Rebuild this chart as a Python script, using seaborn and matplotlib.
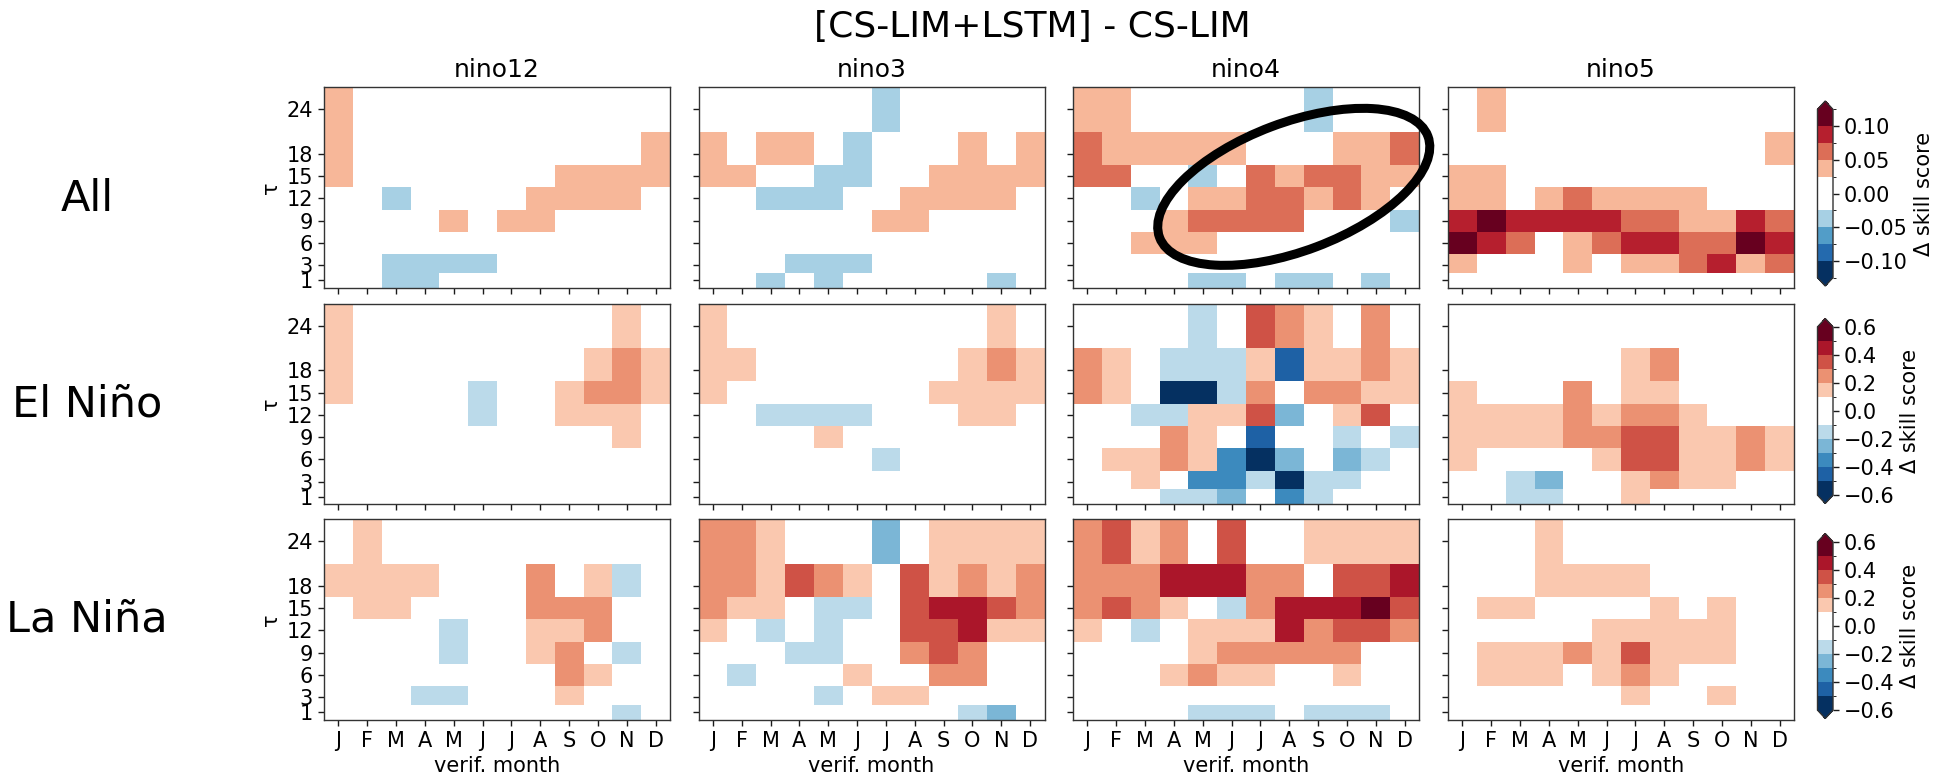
import numpy as np
import matplotlib
matplotlib.use("Agg")
import matplotlib.pyplot as plt
import seaborn as sns
from matplotlib.colors import ListedColormap, BoundaryNorm
from matplotlib.patches import Ellipse
from matplotlib.transforms import ScaledTranslation

# ---------------- data ----------------
TAU = [24, 18, 15, 12, 9, 6, 3, 1]          # lead times, rows top -> bottom
MONTHS = ["J", "F", "M", "A", "M", "J", "J", "A", "S", "O", "N", "D"]
REGIONS = ["nino12", "nino3", "nino4", "nino5"]
ROW_LABELS = ["All", "El Niño", "La Niña"]
SUPTITLE = "[CS-LIM+LSTM] - CS-LIM"

LEVELS_ALL = np.linspace(-0.125, 0.125, 11)
LEVELS_ENSO = np.linspace(-0.6, 0.6, 13)
CBAR_TICKS_ALL = [-0.10, -0.05, 0.0, 0.05, 0.10]
CBAR_TICKS_ENSO = [-0.6, -0.4, -0.2, 0.0, 0.2, 0.4, 0.6]

all_nino12 = [
    [.04, 0, 0, 0, 0, 0, 0, 0, 0, 0, 0, 0],
    [.04, 0, 0, 0, 0, 0, 0, 0, 0, 0, 0, .04],
    [.04, 0, 0, 0, 0, 0, 0, 0, .04, .04, .04, .04],
    [0, 0, -.04, 0, 0, 0, 0, .04, .04, .04, .04, 0],
    [0, 0, 0, 0, .04, 0, .04, .04, 0, 0, 0, 0],
    [0, 0, 0, 0, 0, 0, 0, 0, 0, 0, 0, 0],
    [0, 0, -.04, -.04, -.04, -.04, 0, 0, 0, 0, 0, 0],
    [0, 0, -.04, -.04, 0, 0, 0, 0, 0, 0, 0, 0],
]
all_nino3 = [
    [0, 0, 0, 0, 0, 0, -.04, 0, 0, 0, 0, 0],
    [.04, 0, .04, .04, 0, -.04, 0, 0, 0, .04, 0, .04],
    [.04, .04, 0, 0, -.04, -.04, 0, 0, .04, .04, .04, .04],
    [0, 0, -.04, -.04, -.04, 0, 0, .04, .04, .04, .04, 0],
    [0, 0, 0, 0, 0, 0, .04, .04, 0, 0, 0, 0],
    [0, 0, 0, 0, 0, 0, 0, 0, 0, 0, 0, 0],
    [0, 0, 0, -.04, -.04, -.04, 0, 0, 0, 0, 0, 0],
    [0, 0, -.04, 0, -.04, 0, 0, 0, 0, 0, -.04, 0],
]
all_nino4 = [
    [.04, .04, 0, 0, 0, 0, 0, 0, -.04, 0, 0, 0],
    [.06, .04, .04, .04, .04, .04, 0, 0, 0, .04, .04, .06],
    [.06, .06, 0, 0, -.04, 0, .06, .04, .06, .06, .04, .04],
    [0, 0, -.04, 0, .04, .04, .06, .06, .04, .06, .04, 0],
    [0, 0, 0, .04, .06, .06, .06, .06, 0, 0, 0, -.04],
    [0, 0, .04, .04, .04, 0, 0, 0, 0, 0, 0, 0],
    [0, 0, 0, 0, 0, 0, 0, 0, 0, 0, 0, 0],
    [0, 0, 0, 0, -.04, -.04, 0, -.04, -.04, 0, -.04, 0],
]
all_nino5 = [
    [0, .04, 0, 0, 0, 0, 0, 0, 0, 0, 0, 0],
    [0, 0, 0, 0, 0, 0, 0, 0, 0, 0, 0, .04],
    [.04, .04, 0, 0, 0, 0, 0, 0, 0, 0, 0, 0],
    [.04, .04, 0, .04, .06, .04, .04, .04, .04, 0, 0, 0],
    [.09, .11, .09, .09, .09, .09, .06, .06, .04, .04, .09, .06],
    [.11, .09, .06, 0, .04, .06, .09, .09, .06, .06, .11, .09],
    [.04, 0, 0, 0, .04, 0, .04, .04, .06, .09, .04, .06],
    [0, 0, 0, 0, 0, 0, 0, 0, 0, 0, 0, 0],
]

elnino_nino12 = [
    [.15, 0, 0, 0, 0, 0, 0, 0, 0, 0, .15, 0],
    [.15, 0, 0, 0, 0, 0, 0, 0, 0, .15, .25, .15],
    [.15, 0, 0, 0, 0, -.15, 0, 0, .15, .25, .25, .15],
    [0, 0, 0, 0, 0, -.15, 0, 0, .15, .15, .15, 0],
    [0, 0, 0, 0, 0, 0, 0, 0, 0, 0, .15, 0],
    [0, 0, 0, 0, 0, 0, 0, 0, 0, 0, 0, 0],
    [0, 0, 0, 0, 0, 0, 0, 0, 0, 0, 0, 0],
    [0, 0, 0, 0, 0, 0, 0, 0, 0, 0, 0, 0],
]
elnino_nino3 = [
    [.15, 0, 0, 0, 0, 0, 0, 0, 0, 0, .15, 0],
    [.15, .15, 0, 0, 0, 0, 0, 0, 0, .15, .25, .15],
    [.15, 0, 0, 0, 0, 0, 0, 0, .15, .15, .15, .15],
    [0, 0, -.15, -.15, -.15, -.15, 0, 0, 0, .15, .15, 0],
    [0, 0, 0, 0, .15, 0, 0, 0, 0, 0, 0, 0],
    [0, 0, 0, 0, 0, 0, -.15, 0, 0, 0, 0, 0],
    [0, 0, 0, 0, 0, 0, 0, 0, 0, 0, 0, 0],
    [0, 0, 0, 0, 0, 0, 0, 0, 0, 0, 0, 0],
]
elnino_nino4 = [
    [0, 0, 0, 0, -.15, 0, .35, .25, .15, 0, .25, 0],
    [.25, .15, 0, -.15, -.15, -.15, .15, -.45, .15, .15, .25, .15],
    [.25, .15, 0, -.55, -.55, -.15, .25, 0, .25, .25, .15, .15],
    [0, 0, -.15, -.15, .15, .15, .35, -.25, 0, .15, .35, 0],
    [0, 0, 0, .25, .15, 0, -.45, 0, 0, -.15, 0, -.15],
    [0, .15, .15, .25, .15, -.35, -.55, -.25, 0, -.25, -.15, 0],
    [0, 0, .15, 0, -.35, -.35, -.15, -.55, -.15, -.15, 0, 0],
    [0, 0, 0, -.15, -.15, -.25, 0, -.35, -.15, 0, 0, 0],
]
elnino_nino5 = [
    [0, 0, 0, 0, 0, 0, 0, 0, 0, 0, 0, 0],
    [0, 0, 0, 0, 0, 0, .15, .25, 0, 0, 0, 0],
    [.15, 0, 0, 0, .25, 0, .15, .15, 0, 0, 0, 0],
    [.15, .15, .15, .15, .25, .15, .25, .25, .15, 0, 0, 0],
    [.15, .15, .15, .15, .25, .25, .35, .35, .15, .15, .25, .15],
    [.15, 0, 0, 0, 0, .15, .35, .35, .15, .15, .25, .15],
    [0, 0, -.15, -.25, 0, 0, .15, .25, .15, .15, 0, 0],
    [0, 0, -.15, -.15, 0, 0, .15, 0, 0, 0, 0, 0],
]

lanina_nino12 = [
    [0, .15, 0, 0, 0, 0, 0, 0, 0, 0, 0, 0],
    [.15, .15, .15, .15, 0, 0, 0, .25, 0, .15, -.15, 0],
    [0, .15, .15, 0, 0, 0, 0, .25, .25, .25, 0, 0],
    [0, 0, 0, 0, -.15, 0, 0, .15, .15, .25, 0, 0],
    [0, 0, 0, 0, -.15, 0, 0, .15, .25, 0, -.15, 0],
    [0, 0, 0, 0, 0, 0, 0, 0, .25, .15, 0, 0],
    [0, 0, 0, -.15, -.15, 0, 0, 0, .15, 0, 0, 0],
    [0, 0, 0, 0, 0, 0, 0, 0, 0, 0, -.15, 0],
]
lanina_nino3 = [
    [.25, .25, .15, 0, 0, 0, -.25, 0, .15, .15, .15, .15],
    [.25, .25, .15, .35, .25, .15, 0, .35, .15, .25, .15, .25],
    [.25, .15, .15, 0, -.15, -.15, 0, .35, .45, .45, .35, .25],
    [.15, 0, -.15, 0, -.15, 0, 0, .35, .35, .45, .15, .15],
    [0, 0, 0, -.15, -.15, 0, 0, .25, .35, .25, 0, 0],
    [0, -.15, 0, 0, 0, .15, 0, 0, .25, .25, 0, 0],
    [0, 0, 0, 0, -.15, 0, .15, .15, 0, 0, 0, 0],
    [0, 0, 0, 0, 0, 0, 0, 0, 0, -.15, -.25, 0],
]
lanina_nino4 = [
    [.25, .35, .15, .25, 0, .35, 0, 0, .15, .15, .15, .15],
    [.25, .25, .25, .45, .45, .45, .25, .25, 0, .35, .35, .45],
    [.25, .35, .25, .15, 0, -.15, .25, .45, .45, .45, .55, .35],
    [.15, 0, -.15, 0, .15, .15, .15, .45, .25, .35, .35, .25],
    [0, 0, 0, 0, .15, .25, .25, .25, .25, .25, 0, 0],
    [0, 0, 0, .15, .25, .15, .15, 0, 0, .15, 0, 0],
    [0, 0, 0, 0, 0, 0, 0, 0, 0, 0, 0, 0],
    [0, 0, 0, 0, -.15, -.15, -.15, 0, -.15, -.15, -.15, 0],
]
lanina_nino5 = [
    [0, 0, 0, .15, 0, 0, 0, 0, 0, 0, 0, 0],
    [0, 0, 0, .15, .15, .15, .15, 0, 0, 0, 0, 0],
    [0, .15, .15, 0, 0, 0, 0, .15, 0, .15, 0, 0],
    [0, 0, 0, 0, 0, .15, .15, .15, .15, .15, 0, 0],
    [0, .15, .15, .15, .25, .15, .35, .15, .15, .15, 0, 0],
    [0, .15, .15, .15, 0, .15, .25, .15, 0, 0, 0, 0],
    [0, 0, 0, 0, 0, 0, .15, 0, 0, .15, 0, 0],
    [0, 0, 0, 0, 0, 0, 0, 0, 0, 0, 0, 0],
]

PANELS = [
    [all_nino12, all_nino3, all_nino4, all_nino5],
    [elnino_nino12, elnino_nino3, elnino_nino4, elnino_nino5],
    [lanina_nino12, lanina_nino3, lanina_nino4, lanina_nino5],
]

# ---------------- style ----------------
sns.set_style("ticks")
plt.rcParams["font.family"] = ["DejaVu Sans"]
plt.rcParams["axes.unicode_minus"] = True
for key in ["text.color", "axes.labelcolor", "xtick.color", "ytick.color",
            "xtick.labelcolor", "ytick.labelcolor"]:
    plt.rcParams[key] = "black"

W, H = 1941, 777
fig = plt.figure(figsize=(W / 100, H / 100), dpi=100)


def rect(left, top, w, h):
    return [left / W, 1 - (top + h) / H, w / W, h / H]


def banded_cmap(n):
    cols = plt.get_cmap("RdBu_r")(np.linspace(0, 1, n))
    cols[n // 2 - 1: n // 2 + 1] = [1, 1, 1, 1]
    cmap = ListedColormap(cols)
    cmap.set_over(cols[-1])
    cmap.set_under(cols[0])
    return cmap


# row heights of a 'nearest' mesh on the irregular tau axis (in half-units)
tau_asc = np.array(sorted(TAU), float)
mids = (tau_asc[1:] + tau_asc[:-1]) / 2
edges = np.concatenate([[tau_asc[0] - (tau_asc[1] - tau_asc[0]) / 2], mids,
                        [tau_asc[-1] + (tau_asc[-1] - tau_asc[-2]) / 2]])
top_edge = edges[-1]
reps = np.round(np.diff(edges) * 2).astype(int)[::-1]      # top -> bottom

col_left = [324, 698.5, 1073, 1448]
row_top = [87, 303.5, 519]
AX_W, AX_H = 346, 200.5
cbar_top = [101, 318.5, 533.5]
CB_X, CB_W, CB_H = 1817.5, 15.5, 185

FS = 15
axes = [[None] * 4 for _ in range(3)]
for r in range(3):
    levels = LEVELS_ALL if r == 0 else LEVELS_ENSO
    cmap = banded_cmap(len(levels) - 1)
    norm = BoundaryNorm(levels, cmap.N)
    mesh = None
    for c in range(4):
        ax = fig.add_axes(rect(col_left[c], row_top[r], AX_W, AX_H))
        axes[r][c] = ax
        data = np.repeat(np.array(PANELS[r][c], float), reps, axis=0)
        sns.heatmap(data, ax=ax, cmap=cmap, norm=norm, cbar=False,
                    xticklabels=False, yticklabels=False)
        mesh = ax.collections[0]
        for sp in ax.spines.values():
            sp.set_visible(True)
            sp.set_color("0.2")
            sp.set_linewidth(1.0)
        ax.set_xticks(np.arange(len(MONTHS)) + 0.5)
        ax.set_yticks([(top_edge - t) * 2 for t in TAU])
        if r == 2:
            ax.set_xticklabels(MONTHS, fontsize=FS)
            ax.set_xlabel("verif. month", fontsize=FS)
        else:
            ax.set_xticklabels([])
        if c == 0:
            ax.set_yticklabels([str(t) for t in TAU], fontsize=FS, rotation=0)
            ax.set_ylabel("τ", fontsize=FS)
        else:
            ax.set_yticklabels([])
            ax.set_ylabel("")
        ax.tick_params(direction="out", length=4.5, width=1, color="0.1")
        if r == 0:
            ax.set_title(REGIONS[c], fontsize=18, pad=7)

    cax = fig.add_axes(rect(CB_X, cbar_top[r], CB_W, CB_H))
    cb = fig.colorbar(mesh, cax=cax, extend="both")
    ticks = CBAR_TICKS_ALL if r == 0 else CBAR_TICKS_ENSO
    fmt = "{:.2f}" if r == 0 else "{:.1f}"
    cb.set_ticks(ticks, labels=[fmt.format(t).replace("-", "\u2212") for t in ticks])
    cb.ax.tick_params(labelsize=FS, length=4.5, width=1, color="0.1")
    cb.set_label("Δ skill score", fontsize=FS)
    cb.outline.set_linewidth(1.0)
    cb.outline.set_edgecolor("0.2")

# row labels and title
for r, lab in enumerate(ROW_LABELS):
    yc = [199, 405, 620][r]
    fig.text(87 / W, 1 - yc / H, lab, fontsize=31, ha="center", va="center")
fig.text(1032 / W, 1 - 26.5 / H, SUPTITLE, fontsize=26, ha="center", va="center")

# highlight ellipse on the nino4 "All" panel (drawn in pixel units)
ax_e = axes[0][2]
ell = Ellipse((0, 0), width=2 * 143.4 / 100, height=2 * 64.1 / 100, angle=20.7,
              transform=fig.dpi_scale_trans + ScaledTranslation(0.638, 0.502, ax_e.transAxes),
              facecolor="none", edgecolor="black", linewidth=6.5, clip_on=False, zorder=10)
ax_e.add_artist(ell)

fig.savefig("out.png", dpi=100)
